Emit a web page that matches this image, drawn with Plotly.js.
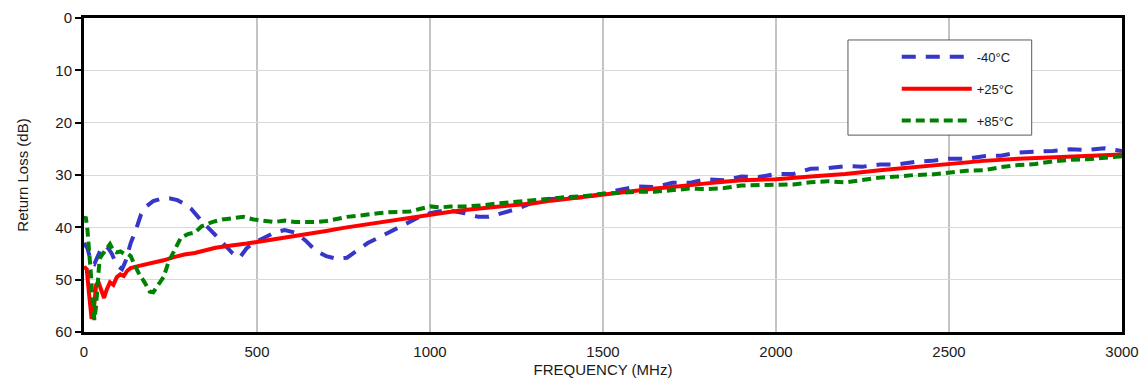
<!DOCTYPE html>
<html>
<head>
<meta charset="utf-8">
<script src="https://cdn.plot.ly/plotly-3.0.1.min.js"></script>
<style>html,body{margin:0;padding:0;background:#fff;}#chart{width:1142px;height:383px;}</style>
</head>
<body>
<div id="chart"></div>
<script>
// -40°C
const freqM40 = [0,10,20,30,40,50,60,70,80,90,100,110,120,135,150,165,180,200,220,250,270,290,310,340,370,400,430,450,470,490,520,550,580,610,640,670,700,730,760,790,820,850,880,910,940,970,1000,1050,1100,1140,1170,1200,1250,1300,1350,1400,1450,1500,1550,1600,1650,1700,1750,1800,1850,1900,1950,2000,2050,2100,2150,2200,2250,2300,2350,2400,2450,2500,2550,2600,2650,2700,2750,2800,2850,2900,2950,3000];
const rlM40   = [43,44,46.5,47,45.5,44,43.5,44,45,46.5,47.5,48,46.5,43,40.5,37.5,36,35,34.6,34.5,34.8,35.5,36.5,38.8,40.8,42.8,45,45.8,44,43,42,41,40.5,41,42.5,44.5,45.5,46,45.8,44.5,43,42,41,40,39,38,37.3,36.7,37.3,38,38,37.4,36.5,35.2,34.6,34.4,34.2,33.6,32.8,32.2,32.3,31.5,31.5,30.8,31,30.3,30.4,29.8,29.8,28.8,28.7,28.3,28.4,28.0,28.0,27.5,27.3,26.9,26.9,26.4,26.3,25.7,25.6,25.4,25.1,25.2,24.9,25.4];
// +25°C
const freqP25 = [0,8,15,22,28,35,42,50,58,65,75,85,95,105,115,125,135,150,170,200,230,260,290,320,350,380,410,440,470,500,550,600,650,700,750,800,850,900,950,1000,1050,1100,1150,1200,1250,1300,1350,1400,1450,1500,1550,1600,1650,1700,1750,1800,1850,1900,1950,2000,2100,2200,2300,2400,2500,2600,2700,2800,2900,3000];
const rlP25   = [47.5,48,53,57.5,56,51,50.5,52,53.5,52,50.5,51,49.5,49,49.3,48.3,47.8,47.5,47.2,46.8,46.3,45.7,45.2,44.9,44.4,43.9,43.6,43.4,43.1,42.8,42.3,41.8,41.2,40.7,40.1,39.6,39.1,38.6,38.0,37.5,37.1,36.7,36.4,36.1,35.8,35.4,34.9,34.5,34.2,33.8,33.4,32.9,32.6,32.3,31.9,31.6,31.3,31.0,30.9,30.8,30.3,29.8,29.1,28.5,27.8,27.3,26.9,26.6,26.4,26.1];
// +85°C
const freqP85 = [0,5,10,15,20,25,30,35,40,45,55,65,75,85,95,105,115,125,135,145,160,175,190,200,215,230,245,260,280,300,320,340,370,400,430,460,490,520,550,580,610,640,670,700,730,760,790,820,850,880,910,940,970,1000,1030,1060,1100,1150,1200,1250,1300,1350,1400,1450,1500,1550,1600,1650,1700,1750,1800,1850,1900,1950,2000,2050,2100,2150,2200,2250,2300,2350,2400,2450,2500,2550,2600,2650,2700,2750,2800,2850,2900,2950,3000];
const rlP85   = [38.5,38,40.5,44,49,54,57.7,55,49,46,45,44,43.2,44.5,44.8,44.6,45,45,45.5,47,49,50.5,52.3,52.4,51,49.5,46.5,44.5,42,41.3,41,39.8,39,38.5,38.2,38,38.5,38.8,39,38.7,39,39,39,38.8,38.4,38,37.8,37.5,37.3,37.1,37,37,36.5,36,36.2,36,36,35.8,35.4,35.1,34.8,34.4,34.2,34.0,33.6,33.4,33.2,33.2,32.9,32.6,32.7,32.5,32,31.9,31.8,31.8,31.4,31.2,31.4,31.0,30.5,30.3,30.0,29.9,29.6,29.2,29.1,28.5,28.1,27.9,27.4,27.1,27.0,26.7,26.4];

const seriesNames = ['-40°C', '+25°C', '+85°C'];
const xTicks = [0,500,1000,1500,2000,2500,3000];
const yTicks = [0,10,20,30,40,50,60];

const traces = [
  {x: freqM40, y: rlM40, name: seriesNames[0], legendgroup: 'a', mode: 'lines',
   line: {color: '#3636c8', width: 4, dash: '14px,10px'}},
  {x: freqP25, y: rlP25, name: seriesNames[1], legendgroup: 'b', mode: 'lines',
   line: {color: '#ff0000', width: 4}},
  {x: freqP85, y: rlP85, name: seriesNames[2], legendgroup: 'c', mode: 'lines',
   line: {color: '#008000', width: 4, dash: '9px,5px'}}
];

const fam = 'Liberation Sans, Arial, sans-serif';
const txt = '#1a1a1a';

const layout = {
  width: 1142, height: 383,
  margin: {l: 84, r: 20, t: 18, b: 51},
  paper_bgcolor: '#fff', plot_bgcolor: '#fff',
  font: {family: fam, size: 15, color: txt},
  showlegend: true,
  legend: {
    x: 0.783, xanchor: 'left', y: 0.924, yanchor: 'top',
    bgcolor: 'rgba(0,0,0,0)', borderwidth: 0,
    font: {family: fam, size: 13, color: txt},
    itemwidth: 70, tracegroupgap: 12, traceorder: 'grouped'
  },
  xaxis: {
    range: [0, 3000], tickvals: xTicks, ticktext: xTicks.map(String),
    tickfont: {family: fam, size: 15, color: txt},
    showgrid: true, gridcolor: '#c3c3c3', gridwidth: 2.5,
    showline: true, linecolor: '#000', linewidth: 3, mirror: true,
    ticks: '', zeroline: false, ticklabelstandoff: 4,
    title: {text: 'FREQUENCY (MHz)', font: {family: fam, size: 15, color: txt}, standoff: 6}
  },
  yaxis: {
    range: [60, 0], tickvals: yTicks, ticktext: yTicks.map(String),
    tickfont: {family: fam, size: 15, color: txt},
    showgrid: true, gridcolor: '#d9d9d9', gridwidth: 1,
    showline: true, linecolor: '#000', linewidth: 3, mirror: true,
    ticks: 'outside', ticklen: 6, tickwidth: 2, tickcolor: '#000',
    ticklabelstandoff: 0,
    zeroline: false,
    title: {text: 'Return Loss (dB)', font: {family: fam, size: 15, color: txt}, standoff: 24}
  },
  shapes: [{
    type: 'rect', xref: 'paper', yref: 'paper',
    x0: 0.736, x1: 0.913, y0: 0.627, y1: 0.930,
    line: {color: '#595959', width: 1}, fillcolor: '#ffffff', layer: 'above'
  }]
};

Plotly.newPlot('chart', traces, layout, {displayModeBar: false, staticPlot: true});
</script>
</body>
</html>
